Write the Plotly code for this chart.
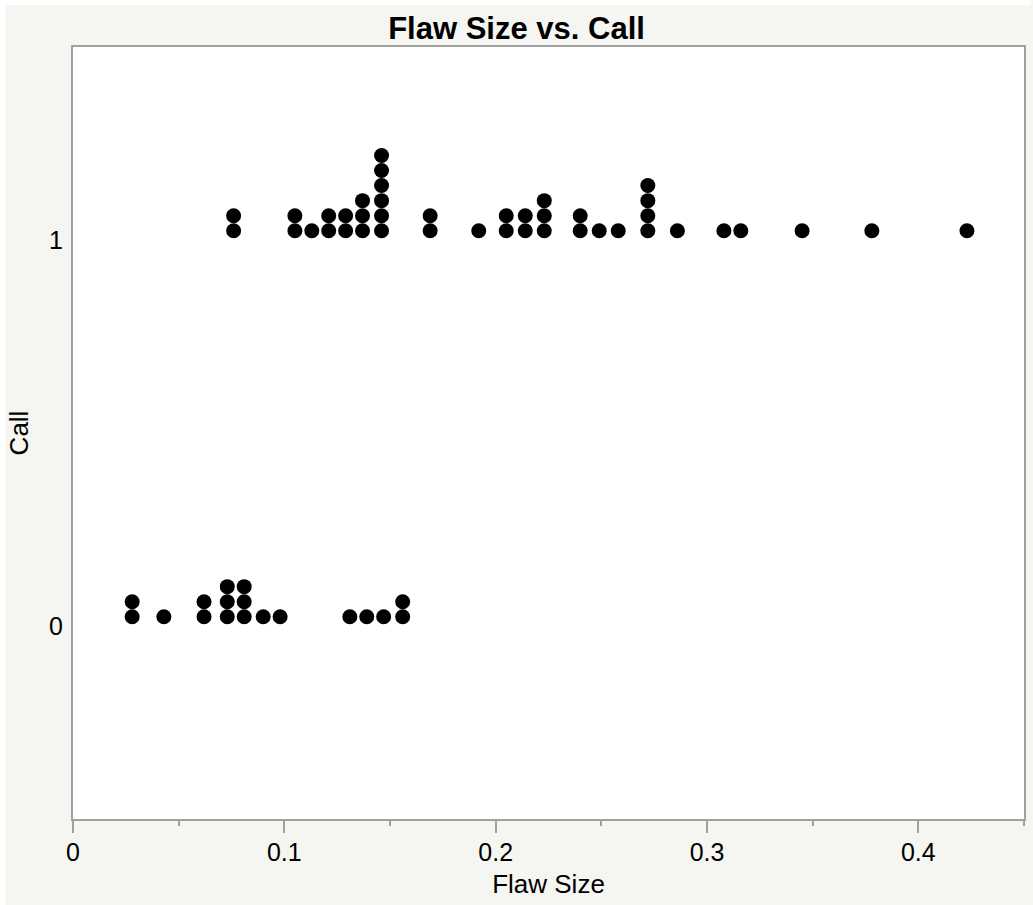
import plotly.graph_objects as go
from collections import Counter

# Flaw sizes for each Call outcome (repeated values stack as dots)
call1_sizes = [0.076, 0.076, 0.105, 0.105, 0.113, 0.121, 0.121, 0.129, 0.129,
               0.137, 0.137, 0.137, 0.146, 0.146, 0.146, 0.146, 0.146, 0.146,
               0.169, 0.169, 0.192, 0.205, 0.205, 0.214, 0.214, 0.223, 0.223, 0.223,
               0.240, 0.240, 0.249, 0.258, 0.272, 0.272, 0.272, 0.272, 0.286,
               0.308, 0.316, 0.345, 0.378, 0.423]
call0_sizes = [0.028, 0.028, 0.043, 0.062, 0.062, 0.073, 0.073, 0.073,
               0.081, 0.081, 0.081, 0.090, 0.098, 0.131, 0.139, 0.147, 0.156, 0.156]
call_levels = [0, 1]
x_ticks = [0, 0.1, 0.2, 0.3, 0.4]
x_tick_labels = ["0", "0.1", "0.2", "0.3", "0.4"]

STACK_BASE = 0.024
STACK_STEP = 0.039

def stacked(sizes, level):
    seen = Counter()
    xs, ys = [], []
    for s in sizes:
        xs.append(s)
        ys.append(level + STACK_BASE + STACK_STEP * seen[s])
        seen[s] += 1
    return xs, ys

fig = go.Figure()
for level, sizes in zip(call_levels, [call0_sizes, call1_sizes]):
    xs, ys = stacked(sizes, level)
    fig.add_trace(go.Scatter(x=xs, y=ys, mode="markers",
                             marker=dict(color="black", size=15, line=dict(width=0)),
                             showlegend=False, hoverinfo="x"))

W, H = 1033, 905
L, R, T, B = 73, 7, 47, 86
pw, ph = W - L - R, H - T - B

def px_to_paper_x(px):
    return (px - L) / pw

def px_to_paper_y(py):
    return (H - B - py) / ph

fig.update_layout(
    width=W, height=H,
    margin=dict(l=L, r=R, t=T, b=B, pad=0),
    paper_bgcolor="#f5f5f1",
    plot_bgcolor="white",
    font=dict(family="Liberation Sans, Arial, sans-serif", size=25, color="black"),
    title=dict(text="<b>Flaw Size vs. Call</b>", x=0.5, xref="container", xanchor="center",
               y=1 - 28 / H, yref="container", yanchor="middle",
               font=dict(size=31, color="black")),
    xaxis=dict(range=[0, 0.45], tickvals=x_ticks, ticktext=x_tick_labels,
               tickfont=dict(size=25),
               ticks="outside", ticklen=12, tickcolor="#a0a0a0", tickwidth=1.5,
               minor=dict(dtick=0.05, ticks="outside", ticklen=5, tickcolor="#a0a0a0", tickwidth=1.5),
               showline=True, linecolor="#a0a0a0", linewidth=2, mirror=True,
               showgrid=False, zeroline=False,
               ticklabelstandoff=-2,
               title=dict(text="Flaw Size", standoff=10, font=dict(size=26))),
    yaxis=dict(range=[-0.5, 1.5], tickvals=call_levels, ticktext=[str(v) for v in call_levels],
               tickfont=dict(size=25),
               ticks="", showline=True, linecolor="#a0a0a0", linewidth=2, mirror=True,
               showgrid=False, zeroline=False, ticklabelstandoff=3,
               title=dict(text="Call", standoff=13, font=dict(size=26))),
    shapes=[
        dict(type="rect", xref="paper", yref="paper",
             x0=px_to_paper_x(0), x1=px_to_paper_x(W), y0=px_to_paper_y(0), y1=px_to_paper_y(5),
             fillcolor="white", line=dict(width=0), layer="above"),
        dict(type="rect", xref="paper", yref="paper",
             x0=px_to_paper_x(0), x1=px_to_paper_x(5), y0=px_to_paper_y(0), y1=px_to_paper_y(H),
             fillcolor="white", line=dict(width=0), layer="above"),
    ],
)

fig.write_html("out.html")
